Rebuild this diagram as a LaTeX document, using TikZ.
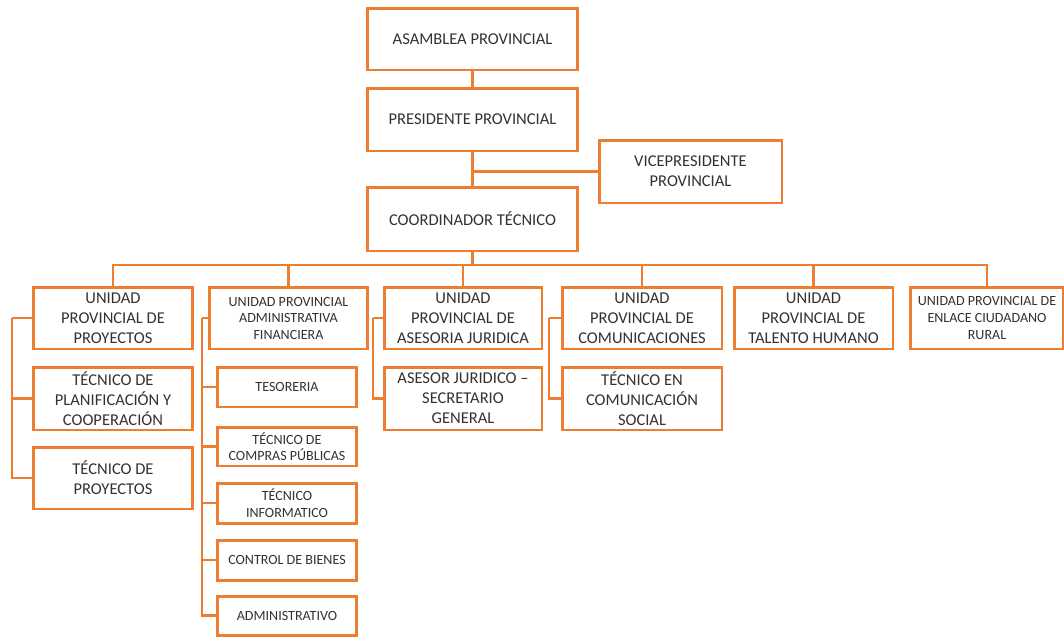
\documentclass[tikz,border=0pt]{standalone}
\usepackage{fontspec}
\setmainfont{Carlito}
\definecolor{orgorange}{RGB}{237,125,49}
\definecolor{orgtext}{RGB}{50,50,50}
\tikzset{
  hv/.style={to path={-| (\tikztotarget)}},
  vh/.style={to path={|- (\tikztotarget)}}
}
\begin{document}
\begin{tikzpicture}[x=0.02cm,y=-0.02cm]

      \useasboundingbox (0,0) rectangle (1064,636);

      \begin{scope}[every node/.style={draw=orgorange,line width=1.7pt,fill=white,
          text=orgtext,align=center,inner sep=0pt,
          font=\fontsize{9.4}{11.3}\selectfont}]
        \node[minimum width=4.22cm,minimum height=1.24cm] (asam) at (472.5,39)  {ASAMBLEA PROVINCIAL};
        \node[minimum width=4.22cm,minimum height=1.26cm] (pres) at (472.5,119.5) {PRESIDENTE PROVINCIAL};
        \node[minimum width=3.66cm,minimum height=1.26cm] (vice) at (690.5,171.5) {VICEPRESIDENTE\\PROVINCIAL};
        \node[minimum width=4.22cm,minimum height=1.28cm] (coord) at (472.5,219) {COORDINADOR TÉCNICO};

        \node[minimum width=3.2cm,minimum height=1.24cm] (proy) at (113,318) {UNIDAD\\PROVINCIAL DE\\PROYECTOS};
        \node[minimum width=3.18cm,minimum height=1.24cm,font=\fontsize{8}{9.4}\selectfont] (adm) at (288.5,318) {UNIDAD PROVINCIAL\\ADMINISTRATIVA\\FINANCIERA};
        \node[minimum width=3.16cm,minimum height=1.24cm] (jur) at (463,318) {UNIDAD\\PROVINCIAL DE\\ASESORIA JURIDICA};
        \node[minimum width=3.2cm,minimum height=1.24cm] (com) at (642,318) {UNIDAD\\PROVINCIAL DE\\COMUNICACIONES};
        \node[minimum width=3.18cm,minimum height=1.24cm] (tal) at (813.5,318) {UNIDAD\\PROVINCIAL DE\\TALENTO HUMANO};
        \node[minimum width=3.06cm,minimum height=1.24cm,font=\fontsize{8}{9.4}\selectfont] (enl) at (987,318) {UNIDAD PROVINCIAL DE\\ENLACE CIUDADANO\\RURAL};

        \node[minimum width=3.2cm,minimum height=1.26cm] (plan) at (113,398.5) {TÉCNICO DE\\PLANIFICACIÓN Y\\COOPERACIÓN};
        \node[minimum width=3.2cm,minimum height=1.24cm] (tproy) at (113,478) {TÉCNICO DE\\PROYECTOS};

        \node[minimum width=2.8cm,minimum height=0.8cm,font=\fontsize{8}{9.4}\selectfont] (teso) at (287,387) {TESORERIA};
        \node[minimum width=2.8cm,minimum height=0.78cm,font=\fontsize{8}{9.4}\selectfont] (compr) at (287,446.5) {TÉCNICO DE\\COMPRAS PÚBLICAS};
        \node[minimum width=2.8cm,minimum height=0.8cm,font=\fontsize{8}{9.4}\selectfont] (info) at (287,503) {TÉCNICO\\INFORMATICO};
        \node[minimum width=2.8cm,minimum height=0.8cm,font=\fontsize{8}{9.4}\selectfont] (bien) at (287,560) {CONTROL DE BIENES};
        \node[minimum width=2.8cm,minimum height=0.78cm,font=\fontsize{8}{9.4}\selectfont] (admv) at (287,615.5) {ADMINISTRATIVO};

        \node[minimum width=3.16cm,minimum height=1.26cm] (ases) at (463,398.5) {ASESOR JURIDICO --\\SECRETARIO\\GENERAL};
        \node[minimum width=3.2cm,minimum height=1.26cm] (tcom) at (642,398.5) {TÉCNICO EN\\COMUNICACIÓN\\SOCIAL};
      \end{scope}

      \coordinate (bus) at (472.5,265);
      \coordinate (s1) at (12,318);
      \coordinate (s2) at (202,318);
      \coordinate (s3) at (373,318);
      \coordinate (s4) at (549,318);

      \begin{scope}[every edge/.style={draw=orgorange,line width=1.3pt}]
        \path (asam) edge (pres);
        \path (pres) edge (coord);
        \path (vice) edge[hv] (pres);
        \path (coord) edge (bus);
        \path (bus) edge[hv] (proy);
        \path (bus) edge[hv] (adm);
        \path (bus) edge[hv] (jur);
        \path (bus) edge[hv] (com);
        \path (bus) edge[hv] (tal);
        \path (bus) edge[hv] (enl);

        \path (proy) edge (s1);
        \path (s1) edge[vh] (plan);
        \path (s1) edge[vh] (tproy);

        \path (adm) edge (s2);
        \path (s2) edge[vh] (teso);
        \path (s2) edge[vh] (compr);
        \path (s2) edge[vh] (info);
        \path (s2) edge[vh] (bien);
        \path (s2) edge[vh] (admv);

        \path (jur) edge (s3);
        \path (s3) edge[vh] (ases);

        \path (com) edge (s4);
        \path (s4) edge[vh] (tcom);
      \end{scope}

    \end{tikzpicture}
\end{document}
